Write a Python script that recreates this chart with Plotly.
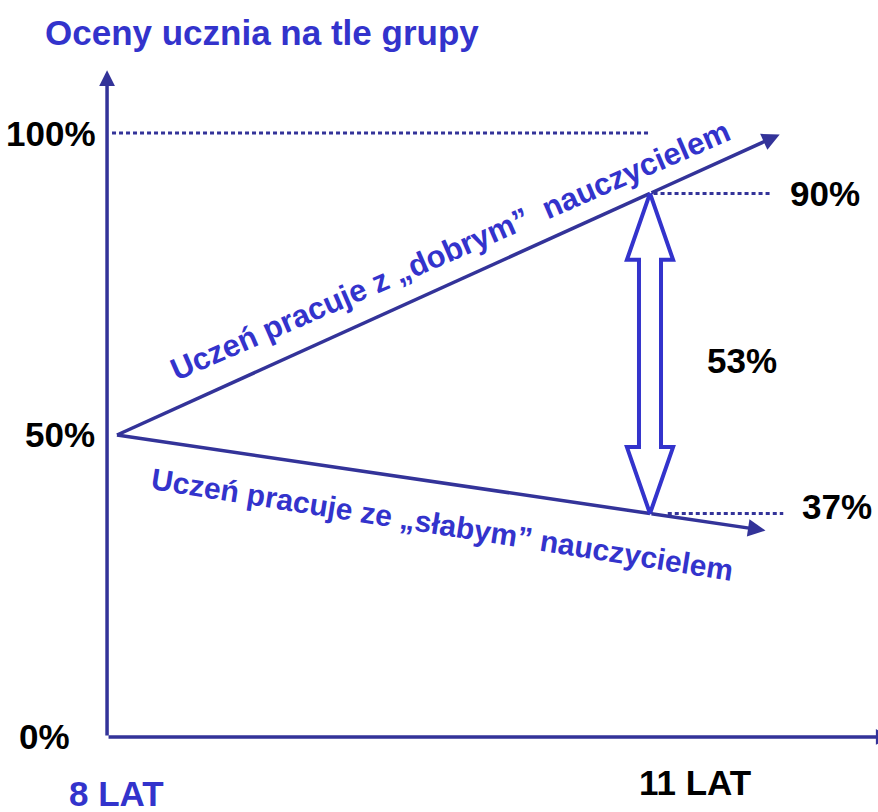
import plotly.graph_objects as go

# ---------------- data ----------------
years = [8, 11]                      # wiek ucznia (lata)
good_teacher = [50, 90]              # % – uczeń z „dobrym” nauczycielem
weak_teacher = [50, 37]              # % – uczeń ze „słabym” nauczycielem
y_tick_values = [0, 50, 100]
y_tick_labels = ["0%", "50%", "100%"]
x_tick_labels = ["8 LAT", "11 LAT"]
title_text = "Oceny ucznia na tle grupy"
good_label = "Uczeń pracuje z „dobrym”  nauczycielem"
weak_label = "Uczeń pracuje ze „słabym” nauczycielem"

# ---------------- style ----------------
LINE = "#333399"
BLUE = "#3333CC"
FONT = "Liberation Sans Narrow, Arial Narrow, Liberation Sans, Arial, sans-serif"
W, H = 878, 812
X_RANGE = [7.3415, 12.2833]
Y_RANGE = [-12.42, 122.02]
LW = 3.5

fig = go.Figure()

x0, x1 = years
g0, g1 = good_teacher
w0, w1 = weak_teacher

# main lines (data)
fig.add_trace(go.Scatter(x=years, y=good_teacher, mode="lines",
                         line=dict(color=LINE, width=LW), hoverinfo="skip"))
fig.add_trace(go.Scatter(x=years, y=weak_teacher, mode="lines",
                         line=dict(color=LINE, width=LW), hoverinfo="skip"))

# arrow extensions of trend lines
ext_g, ext_w = 0.73, 0.65
g_slope = (g1 - g0) / (x1 - x0)
w_slope = (w1 - w0) / (x1 - x0)
fig.add_annotation(x=x1 + ext_g, y=g1 + g_slope * ext_g, ax=x1, ay=g1,
                   xref="x", yref="y", axref="x", ayref="y", text="",
                   showarrow=True, arrowhead=2, arrowsize=1.0, arrowwidth=LW,
                   arrowcolor=LINE)
fig.add_annotation(x=x1 + ext_w, y=w1 + w_slope * ext_w, ax=x1, ay=w1,
                   xref="x", yref="y", axref="x", ayref="y", text="",
                   showarrow=True, arrowhead=2, arrowsize=1.0, arrowwidth=LW,
                   arrowcolor=LINE)

# axes drawn as arrows
x_axis_pos = 7.944
fig.add_annotation(x=x_axis_pos, y=110.4, ax=x_axis_pos, ay=y_tick_values[0],
                   xref="x", yref="y", axref="x", ayref="y", text="",
                   showarrow=True, arrowhead=2, arrowsize=0.9, arrowwidth=LW,
                   arrowcolor=LINE)
fig.add_annotation(x=12.36, y=y_tick_values[0], ax=x_axis_pos, ay=y_tick_values[0],
                   xref="x", yref="y", axref="x", ayref="y", text="",
                   showarrow=True, arrowhead=2, arrowsize=0.9, arrowwidth=LW,
                   arrowcolor=LINE)

# dotted guide lines
DOT = "4px,3px"
fig.add_trace(go.Scatter(x=[7.972, x1], y=[y_tick_values[2]] * 2, mode="lines",
                         line=dict(color=LINE, width=3, dash=DOT), hoverinfo="skip"))
fig.add_trace(go.Scatter(x=[x1 + 0.02, 11.675], y=[g1] * 2, mode="lines",
                         line=dict(color=LINE, width=3, dash=DOT), hoverinfo="skip"))
fig.add_trace(go.Scatter(x=[x1 + 0.10, 11.75], y=[w1] * 2, mode="lines",
                         line=dict(color=LINE, width=3, dash=DOT), hoverinfo="skip"))

# double-headed hollow arrow between the two outcomes
hw_head, hw_shaft = 0.13, 0.062
head_len = 11.0
arrow_x = [x1, x1 - hw_head, x1 - hw_shaft, x1 - hw_shaft, x1 - hw_head, x1,
           x1 + hw_head, x1 + hw_shaft, x1 + hw_shaft, x1 + hw_head, x1]
arrow_y = [g1, g1 - head_len, g1 - head_len, w1 + head_len, w1 + head_len, w1,
           w1 + head_len, w1 + head_len, g1 - head_len, g1 - head_len, g1]
fig.add_trace(go.Scatter(x=arrow_x, y=arrow_y, mode="lines", fill="toself",
                         fillcolor="white", line=dict(color=BLUE, width=4),
                         hoverinfo="skip"))

big = dict(family=FONT, size=35, color="black", weight="bold")
big_blue = dict(family=FONT, size=35, color=BLUE, weight="bold")

# y labels
label_x = [7.747, 7.888, 7.893]
for lx, v, t in zip(label_x, y_tick_values, y_tick_labels):
    fig.add_annotation(x=lx, y=v, text=t, showarrow=False, xanchor="right",
                       yanchor="middle", font=big, xref="x", yref="y")

# x labels
fig.add_annotation(x=x0, y=y_tick_values[0], text=x_tick_labels[0], showarrow=False,
                   xanchor="center", yanchor="middle", yshift=-57, font=big_blue)
fig.add_annotation(x=x1, y=y_tick_values[0], text=x_tick_labels[1], showarrow=False,
                   xanchor="center", yanchor="middle", xshift=45, yshift=-46, font=big)

# value labels
fig.add_annotation(x=11.777, y=g1, text=f"{g1}%", showarrow=False, xanchor="left",
                   yanchor="middle", font=big)
fig.add_annotation(x=11.844, y=w1, text=f"{w1}%", showarrow=False, xanchor="left",
                   yanchor="middle", yshift=7, font=big)
fig.add_annotation(x=11.518, y=(g1 + w1) / 2, text=f"{g1 - w1}%", showarrow=False,
                   xanchor="center", yanchor="middle", yshift=-7, font=big)

# line labels
gx, wx = 9.874, 9.83
fig.add_annotation(x=gx, y=g0 + g_slope * (gx - x0), text=good_label, showarrow=False,
                   xanchor="center", yanchor="middle", textangle=-23.5, yshift=34,
                   font=dict(family=FONT, size=31, color=BLUE, weight="bold"))
fig.add_annotation(x=wx, y=w0 + w_slope * (wx - x0), text=weak_label, showarrow=False,
                   xanchor="center", yanchor="middle", textangle=9, yshift=-42,
                   font=dict(family=FONT, size=30, color=BLUE, weight="bold"))

fig.update_layout(
    width=W, height=H, autosize=False,
    margin=dict(l=0, r=0, t=0, b=0),
    paper_bgcolor="white", plot_bgcolor="white",
    showlegend=False,
    title=dict(text=title_text, x=45 / W, xanchor="left", y=1 - 33 / H,
               yanchor="middle", font=big_blue),
    xaxis=dict(range=X_RANGE, visible=False, fixedrange=True),
    yaxis=dict(range=Y_RANGE, visible=False, fixedrange=True),
)

fig.write_html("out.html",
               config={"displayModeBar": False, "staticPlot": True},
               post_script="document.body.style.margin='0';"
                           "document.body.style.overflow='hidden';")
